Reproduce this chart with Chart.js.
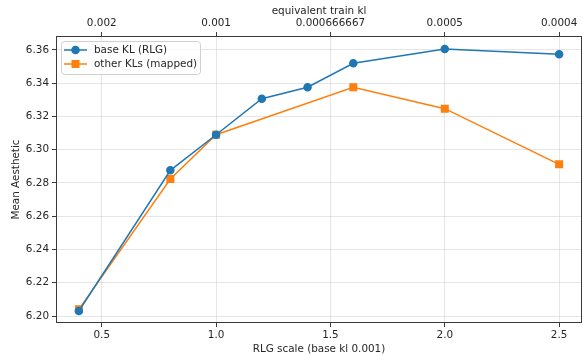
<!DOCTYPE html>
<html><head><meta charset="utf-8">
<script src="https://cdn.jsdelivr.net/npm/chart.js@4/dist/chart.umd.min.js"></script>
<style>html,body{margin:0;padding:0;background:#fff}#wrap{width:583px;height:356px}</style>
</head><body><div id="wrap"><canvas id="c" width="583" height="356"></canvas></div>
<script>
const baseX = [0.4, 0.8, 1.0, 1.2, 1.4, 1.6, 2.0, 2.5];
const baseY = [6.203, 6.2876, 6.309, 6.3307, 6.3376, 6.352, 6.3606, 6.3574];
const otherX = [0.4, 0.8, 1.0, 1.6, 2.0, 2.5];
const otherY = [6.204, 6.2824, 6.309, 6.3376, 6.3247, 6.2912];
const xTicks = [0.5, 1.0, 1.5, 2.0, 2.5];
const xTickLabels = ['0.5', '1.0', '1.5', '2.0', '2.5'];
const topTickLabels = ['0.002', '0.001', '0.000666667', '0.0005', '0.0004'];
const yTicks = [6.20, 6.22, 6.24, 6.26, 6.28, 6.30, 6.32, 6.34, 6.36];
const seriesNames = ['base KL (RLG)', 'other KLs (mapped)'];

const FONT = 'DejaVu Sans';
const FS = 10.4;
Chart.defaults.font.family = FONT;
Chart.defaults.font.size = FS;
Chart.defaults.color = '#262626';

const toPts = (xs, ys) => xs.map((x, i) => ({x, y: ys[i]}));
const gridColor = 'rgba(200,200,200,0.45)';
const spine = '#3a3a3a';
const noPad = s => { s.paddingLeft = 0; s.paddingRight = 0; s.paddingTop = 0; s.paddingBottom = 0; };

const legendPlugin = {
  id: 'boxLegend',
  afterDraw(chart) {
    const ctx = chart.ctx, a = chart.chartArea;
    ctx.save();
    ctx.strokeStyle = spine; ctx.lineWidth = 1;
    ctx.strokeRect(Math.round(a.left) + 0.5, Math.round(a.top) + 0.5, Math.round(a.right - a.left) - 1, Math.round(a.bottom - a.top) - 1);
    const x0 = a.left + 5, y0 = a.top + 5, w = 139, h = 33;
    ctx.beginPath();
    if (ctx.roundRect) ctx.roundRect(x0 + 0.5, y0 + 0.5, w, h, 3); else ctx.rect(x0 + 0.5, y0 + 0.5, w, h);
    ctx.fillStyle = 'rgba(255,255,255,0.8)';
    ctx.fill();
    ctx.strokeStyle = '#d0d0d0';
    ctx.lineWidth = 1;
    ctx.stroke();
    chart.data.datasets.forEach((ds, i) => {
      const cy = y0 + 9 + i * 14;
      ctx.strokeStyle = ds.borderColor;
      ctx.lineWidth = 1.5;
      ctx.beginPath(); ctx.moveTo(x0 + 3, cy); ctx.lineTo(x0 + 26, cy); ctx.stroke();
      Chart.helpers.drawPoint(ctx, {pointStyle: ds.pointStyle, radius: ds.pointRadius, borderWidth: 1}, x0 + 14.5, cy);
      ctx.fillStyle = ds.backgroundColor;
      ctx.fill();
      ctx.fillStyle = '#262626';
      ctx.font = FS + 'px "' + FONT + '"';
      ctx.textBaseline = 'middle';
      ctx.textAlign = 'left';
      ctx.fillText(ds.label, x0 + 33, cy + 0.5);
    });
    ctx.restore();
  }
};

new Chart(document.getElementById('c'), {
  type: 'scatter',
  data: {
    datasets: [
      {label: seriesNames[0], data: toPts(baseX, baseY), showLine: true, borderColor: '#1f77b4', backgroundColor: '#1f77b4', borderWidth: 1.5, pointStyle: 'circle', pointRadius: 3.5, pointHoverRadius: 3.5},
      {label: seriesNames[1], data: toPts(otherX, otherY), showLine: true, borderColor: '#ff7f0e', backgroundColor: '#ff7f0e', borderWidth: 1.5, pointStyle: 'rect', pointRadius: 4.6, pointHoverRadius: 4.6}
    ]
  },
  options: {
    responsive: false,
    animation: false,
    events: [],
    layout: {autoPadding: false, padding: {left: 0, right: 1, top: 0, bottom: 0}},
    plugins: {legend: {display: false}, tooltip: {enabled: false}},
    scales: {
      x: {
        type: 'linear', position: 'bottom', min: 0.3, max: 2.6,
        afterBuildTicks: s => { s.ticks = xTicks.map(v => ({value: v})); },
        afterFit: s => { s.height = 33; noPad(s); },
        ticks: {callback: (v) => xTickLabels[xTicks.indexOf(v)] ?? '', padding: 2, maxRotation: 0, color: '#262626'},
        grid: {color: gridColor, tickColor: spine, tickLength: 4, drawTicks: true},
        border: {display: false},
        title: {display: true, text: 'RLG scale (base kl 0.001)', padding: {top: 0, bottom: 0}, color: '#262626'}
      },
      x2: {
        type: 'linear', position: 'top', min: 0.3, max: 2.6,
        afterBuildTicks: s => { s.ticks = xTicks.map(v => ({value: v})); },
        afterFit: s => { s.height = 36; noPad(s); },
        ticks: {callback: (v) => topTickLabels[xTicks.indexOf(v)] ?? '', padding: 2, maxRotation: 0, color: '#262626'},
        grid: {drawOnChartArea: false, tickColor: spine, tickLength: 4},
        border: {display: false},
        title: {display: true, text: 'equivalent train kl', padding: {top: 5, bottom: 0}, color: '#262626'}
      },
      y: {
        type: 'linear', min: 6.1958, max: 6.3684,
        afterBuildTicks: s => { s.ticks = yTicks.map(v => ({value: v})); },
        afterFit: s => { s.width = 56; noPad(s); },
        ticks: {callback: v => Number(v).toFixed(2), padding: 3, color: '#262626'},
        grid: {color: gridColor, tickColor: spine, tickLength: 4},
        border: {display: false},
        title: {display: true, text: 'Mean Aesthetic', padding: {top: 10, bottom: 0}, color: '#262626'}
      }
    }
  },
  plugins: [legendPlugin]
});
</script></body></html>
